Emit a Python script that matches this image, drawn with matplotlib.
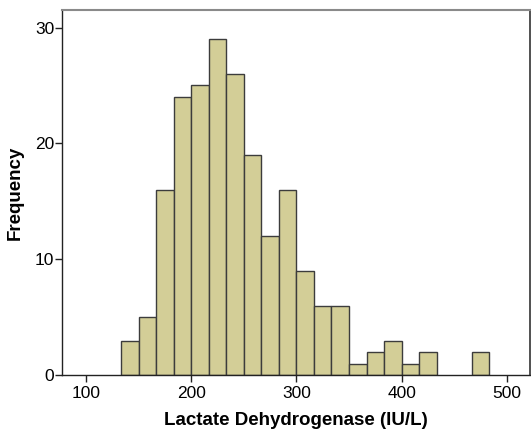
import numpy as np
import matplotlib
matplotlib.use("Agg")
import matplotlib.pyplot as plt

plt.rcParams['font.family'] = ['Liberation Sans', 'DejaVu Sans']

# Histogram of lactate dehydrogenase values: bin edges (IU/L) and counts
bin_start = 400 / 3
bin_width = 50 / 3
counts = [3, 5, 16, 24, 25, 29, 26, 19, 12, 16, 9, 6, 6, 1, 2, 3, 1, 2, 0, 0, 2]
x_ticks = [100, 200, 300, 400, 500]
y_ticks = [0, 10, 20, 30]

edges = bin_start + bin_width * np.arange(len(counts) + 1)

fig = plt.figure(figsize=(5.31, 4.40), dpi=100)
ax = fig.add_axes([0.1168, 0.147, 0.881, 0.830])

nonzero = [i for i, c in enumerate(counts) if c > 0]
ax.bar(edges[nonzero], [counts[i] for i in nonzero], width=bin_width,
       align='edge', color='#D3CE97', edgecolor='#3C3C3C', linewidth=1.0)

ax.set_xlim(77, 522)
ax.set_ylim(0, 31.5)
ax.set_xticks(x_ticks)
ax.set_yticks(y_ticks)
ax.tick_params(axis='both', direction='out', length=5, width=1, color='#222222',
               labelsize=12.5)
ax.tick_params(axis='y', pad=0.5)
ax.tick_params(axis='x', pad=2.5)

for side in ('left', 'bottom'):
    ax.spines[side].set_color('#222222')
    ax.spines[side].set_linewidth(1.0)
ax.spines['top'].set_color('#8A8A8A')
ax.spines['top'].set_linewidth(1.5)
ax.spines['right'].set_color('#333333')
ax.spines['right'].set_linewidth(1.2)

ax.set_xlabel('Lactate Dehydrogenase (IU/L)', fontsize=13.5, fontweight='bold', labelpad=8)
ax.set_ylabel('Frequency', fontsize=13.5, fontweight='bold', labelpad=8)

fig.savefig('out.png', dpi=100)
